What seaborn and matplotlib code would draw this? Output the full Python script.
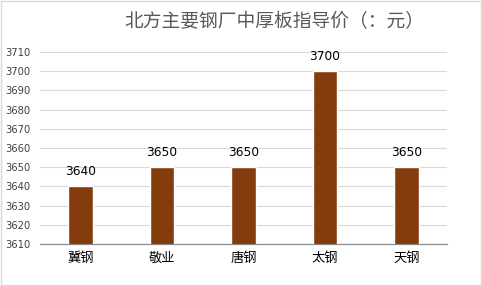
import matplotlib
matplotlib.use("Agg")
import matplotlib.pyplot as plt
import seaborn as sns
import pandas as pd
from matplotlib.patches import Rectangle

categories = ["冀钢", "敬业", "唐钢", "太钢", "天钢"]
values = [3640, 3650, 3650, 3700, 3650]
title = "北方主要钢厂中厚板指导价（：元）"

sns.set_theme(style="white")
plt.rcParams['font.family'] = ['Noto Sans CJK SC', 'DejaVu Sans']

df = pd.DataFrame({"cat": categories, "val": values})

fig = plt.figure(figsize=(4.82, 2.86), dpi=100)
ax = fig.add_axes([40/482, 42/286, 407/482, 192/286])
sns.barplot(data=df, x="cat", y="val", color="#843C0C", width=0.3, ax=ax,
            saturation=1, zorder=3)
ax.set_ylim(3610, 3710)
ax.set_yticks(range(3610, 3711, 10))
ax.yaxis.grid(True, color="#D9D9D9", linewidth=0.8, zorder=0)
ax.set_axisbelow(True)
for s in ["top", "right", "left"]:
    ax.spines[s].set_visible(False)
ax.spines["bottom"].set_color("#8C8C8C")
ax.spines["bottom"].set_linewidth(0.9)
ax.set_xlabel("")
ax.set_ylabel("")
ax.tick_params(axis="y", labelsize=7.2, colors="#404040", length=0, pad=7)
ax.tick_params(axis="x", labelsize=9.5, colors="#000000", length=0, pad=6)
for lbl in ax.get_yticklabels():
    lbl.set_family(['DejaVu Sans'])
for p, v in zip(ax.patches, values):
    ax.annotate(f"{v}", (p.get_x() + p.get_width()/2, v), xytext=(0, 6),
                textcoords="offset points", ha="center", va="bottom",
                fontsize=8.8, color="#000000", family=['DejaVu Sans'])
fig.text(274/482, 1 - 22/286, title, ha="center", va="center",
         fontsize=13.5, color="#595959")
fig.patches.append(Rectangle((0.002, 0.003), 0.995, 0.993, transform=fig.transFigure,
                             fill=False, edgecolor="#D9D9D9", linewidth=1))
fig.savefig("out.png", dpi=100)
